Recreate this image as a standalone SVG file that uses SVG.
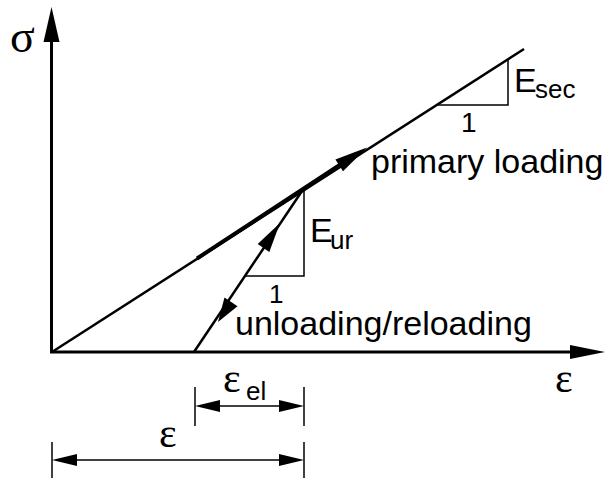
<svg xmlns="http://www.w3.org/2000/svg" width="606" height="480" viewBox="0 0 606 480">
<style>
.ax{stroke:#000;stroke-width:3;fill:none}
.ln{stroke:#000;stroke-width:2.5;fill:none}
.thk{stroke:#000;stroke-width:4;fill:none}
.thin{stroke:#000;stroke-width:1.5;fill:none}
.ah{fill:#000;stroke:none}
.sans{font-family:"Liberation Sans",Arial,sans-serif;fill:#000}
.serif{font-family:"Liberation Serif","Times New Roman",serif;fill:#000}
</style>
<rect width="606" height="480" fill="#fff"/>
<g id="axes">
  <line class="ax" x1="51.5" y1="352" x2="51.5" y2="38"/>
  <polygon class="ah" points="51.5,7 43.5,42 59.5,42"/>
  <line class="ax" x1="50" y1="352" x2="574" y2="352"/>
  <polygon class="ah" points="605,352 570,345 570,359"/>
  <text class="serif" x="10" y="52" font-size="46">σ</text>
  <text class="serif" x="555" y="392" font-size="42">ε</text>
</g>
<g id="connectors">
  <line class="ln" x1="52" y1="352" x2="524" y2="49"/>
  <line class="thk" x1="197" y1="258.5" x2="342" y2="163.5"/>
  <polygon class="ah" points="367,147.6 343,171.3 335.4,159.5"/>
  <line class="ln" x1="194" y1="352" x2="302" y2="191"/>
  <polygon class="ah" points="280,223 269.3,251.9 257.7,244.1"/>
  <polygon class="ah" points="218,322 237.5,306.3 224.5,297.5"/>
</g>
<g id="esec-triangle">
  <polyline class="thin" points="508,59 508,105 438,105"/>
  <text class="sans" x="514" y="92" font-size="34">E</text>
  <text class="sans" x="535" y="98" font-size="26">sec</text>
  <text class="sans" x="461" y="132" font-size="28">1</text>
</g>
<g id="eur-triangle">
  <polyline class="thin" points="304,191 304,276 246,276"/>
  <text class="sans" x="310" y="242" font-size="34">E</text>
  <text class="sans" x="330" y="249" font-size="26">ur</text>
  <text class="sans" x="269" y="303" font-size="26">1</text>
</g>
<g id="labels">
  <text class="sans" x="371" y="173" font-size="34">primary loading</text>
  <text class="sans" x="235" y="335" font-size="34">unloading/reloading</text>
</g>
<g id="dim-eel">
  <line class="thin" x1="195" y1="387" x2="195" y2="426"/>
  <line class="thin" x1="304" y1="387" x2="304" y2="426"/>
  <line class="thin" x1="210" y1="406" x2="290" y2="406"/>
  <polygon class="ah" points="195,406 220,400 220,412"/>
  <polygon class="ah" points="304,406 279,400 279,412"/>
  <text class="serif" x="223" y="392" font-size="42">ε</text>
  <text class="sans" x="246" y="400" font-size="26">el</text>
</g>
<g id="dim-e">
  <line class="thin" x1="52" y1="442" x2="52" y2="478"/>
  <line class="thin" x1="304" y1="442" x2="304" y2="478"/>
  <line class="thin" x1="67" y1="460" x2="290" y2="460"/>
  <polygon class="ah" points="52,460 77,454 77,466"/>
  <polygon class="ah" points="304,460 279,454 279,466"/>
  <text class="serif" x="159" y="447" font-size="42">ε</text>
</g>
</svg>
